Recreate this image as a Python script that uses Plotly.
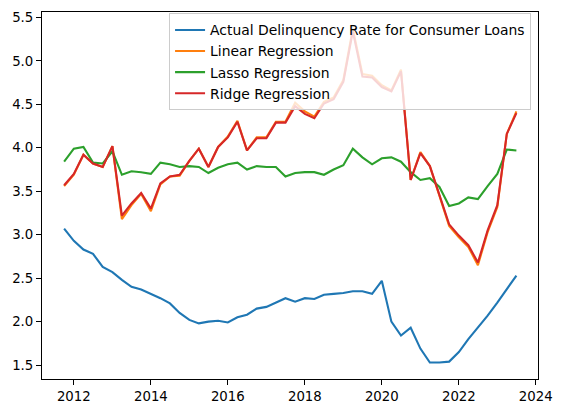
import plotly.graph_objects as go

dates = [
    "2011-10-01",
    "2012-01-01", "2012-04-01", "2012-07-01", "2012-10-01",
    "2013-01-01", "2013-04-01", "2013-07-01", "2013-10-01",
    "2014-01-01", "2014-04-01", "2014-07-01", "2014-10-01",
    "2015-01-01", "2015-04-01", "2015-07-01", "2015-10-01",
    "2016-01-01", "2016-04-01", "2016-07-01", "2016-10-01",
    "2017-01-01", "2017-04-01", "2017-07-01", "2017-10-01",
    "2018-01-01", "2018-04-01", "2018-07-01", "2018-10-01",
    "2019-01-01", "2019-04-01", "2019-07-01", "2019-10-01",
    "2020-01-01", "2020-04-01", "2020-07-01", "2020-10-01",
    "2021-01-01", "2021-04-01", "2021-07-01", "2021-10-01",
    "2022-01-01", "2022-04-01", "2022-07-01", "2022-10-01",
    "2023-01-01", "2023-04-01", "2023-07-01",
]

actual = [3.07, 2.93, 2.83, 2.78, 2.63, 2.57, 2.48, 2.40, 2.37, 2.32, 2.27, 2.21,
          2.10, 2.02, 1.98, 2.00, 2.01, 1.99, 2.05, 2.08, 2.15, 2.17, 2.22, 2.27,
          2.23, 2.27, 2.26, 2.31, 2.32, 2.33, 2.35, 2.35, 2.32, 2.47, 2.00, 1.84,
          1.93, 1.69, 1.53, 1.53, 1.54, 1.65, 1.80, 1.93, 2.07, 2.22, 2.38, 2.53]

linear = [3.56, 3.69, 3.92, 3.82, 3.78, 4.02, 3.18, 3.34, 3.47, 3.27, 3.58, 3.67,
          3.68, 3.85, 3.99, 3.78, 4.01, 4.13, 4.31, 3.97, 4.12, 4.12, 4.30, 4.30,
          4.52, 4.42, 4.36, 4.53, 4.58, 4.78, 5.37, 4.85, 4.83, 4.72, 4.66, 4.90,
          3.63, 3.95, 3.79, 3.46, 3.10, 2.97, 2.86, 2.65, 3.03, 3.32, 4.16, 4.42]

lasso = [3.84, 3.99, 4.01, 3.83, 3.82, 3.96, 3.69, 3.73, 3.72, 3.70, 3.83, 3.81,
         3.78, 3.79, 3.78, 3.71, 3.77, 3.81, 3.83, 3.75, 3.79, 3.78, 3.78, 3.67,
         3.71, 3.72, 3.72, 3.69, 3.75, 3.80, 3.99, 3.89, 3.81, 3.88, 3.89, 3.84,
         3.72, 3.63, 3.65, 3.55, 3.33, 3.36, 3.43, 3.41, 3.56, 3.70, 3.98, 3.97]

ridge = [3.57, 3.70, 3.92, 3.82, 3.78, 4.02, 3.22, 3.36, 3.48, 3.30, 3.59, 3.67,
         3.69, 3.85, 3.99, 3.78, 4.01, 4.12, 4.30, 3.97, 4.11, 4.11, 4.29, 4.29,
         4.48, 4.39, 4.34, 4.51, 4.56, 4.76, 5.34, 4.82, 4.81, 4.70, 4.65, 4.88,
         3.63, 3.94, 3.79, 3.47, 3.12, 2.99, 2.88, 2.68, 3.05, 3.34, 4.16, 4.40]

series_names = ["Actual Delinquency Rate for Consumer Loans", "Linear Regression",
                "Lasso Regression", "Ridge Regression"]
series_colors = ["#1f77b4", "#ff7f0e", "#2ca02c", "#d62728"]

year_ticks = ["2012-01-01", "2014-01-01", "2016-01-01", "2018-01-01",
              "2020-01-01", "2022-01-01", "2024-01-01"]
year_labels = ["2012", "2014", "2016", "2018", "2020", "2022", "2024"]
y_ticks = [1.5, 2.0, 2.5, 3.0, 3.5, 4.0, 4.5, 5.0, 5.5]

fig = go.Figure()
for name, vals, col in zip(series_names, [actual, linear, lasso, ridge], series_colors):
    fig.add_trace(go.Scatter(x=dates, y=vals, mode="lines", name=name,
                             line=dict(color=col, width=2.1)))

axis_common = dict(showline=True, linecolor="black", linewidth=1.1, mirror=True,
                   ticks="outside", ticklen=5, tickwidth=1.1, tickcolor="black",
                   showgrid=False, zeroline=False,
                   tickfont=dict(family="DejaVu Sans", size=13.3, color="black"))

# page body adds an 8px offset; figure is sized to fill the rest of the window
fig.update_layout(
    width=554, height=405,
    margin=dict(l=34, r=24, t=2, b=34),
    paper_bgcolor="white", plot_bgcolor="white",
    font=dict(family="DejaVu Sans", size=13.3, color="black"),
    xaxis=dict(type="date", range=["2011-03-05", "2024-01-22"],
               tickvals=year_ticks, ticktext=year_labels, **axis_common),
    yaxis=dict(range=[1.34, 5.563], tickvals=y_ticks,
               ticktext=[f"{v:.1f}" for v in y_ticks], **axis_common),
    legend=dict(x=0.986, y=0.996, xanchor="right", yanchor="top",
                bgcolor="rgba(255,255,255,0.8)", bordercolor="#cccccc",
                borderwidth=1, font=dict(family="DejaVu Sans", size=13.9),
                tracegroupgap=0),
    showlegend=True,
)

fig.write_html("out.html")
